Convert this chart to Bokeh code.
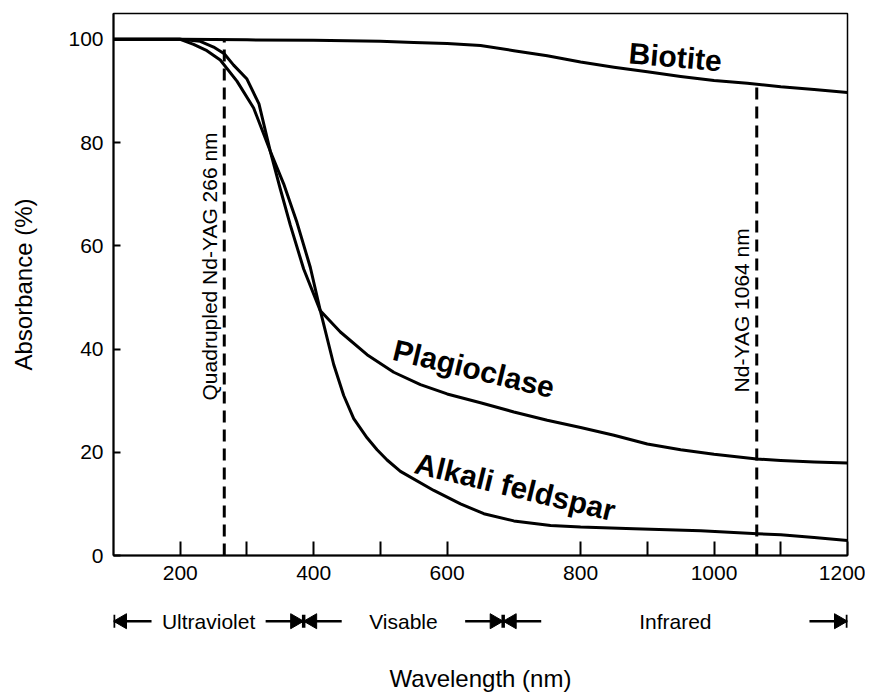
import numpy as np
from bokeh.plotting import figure
from bokeh.layouts import column
from bokeh.models import Range1d, FixedTicker, Label
from bokeh.core.properties import value
from bokeh.embed import file_html
from bokeh.resources import INLINE

# ---- data ----
wl_biotite = [100, 200, 300, 400, 450, 500, 550, 600, 650, 700, 750, 800, 850, 900, 950, 1000, 1050, 1100, 1150, 1200]
abs_biotite = [100, 100, 99.9, 99.8, 99.7, 99.6, 99.4, 99.2, 98.8, 97.8, 96.8, 95.6, 94.6, 93.7, 92.8, 92.0, 91.5, 90.8, 90.3, 89.7]

wl_plag = [100, 200, 230, 250, 266, 280, 300, 318, 335, 350, 365, 385, 410, 440, 480, 520, 560, 600, 650, 700, 750, 800, 850, 900, 950, 1000, 1064, 1100, 1150, 1200]
abs_plag = [100, 100, 99.6, 98.5, 97.2, 95.0, 92.3, 87.5, 78.3, 71.0, 64.0, 55.5, 47.4, 43.3, 38.9, 35.5, 33.1, 31.3, 29.6, 27.8, 26.2, 24.8, 23.3, 21.6, 20.5, 19.6, 18.7, 18.4, 18.1, 17.9]

wl_alkali = [100, 200, 220, 240, 260, 285, 310, 335, 355, 375, 395, 410, 430, 445, 460, 480, 495, 510, 530, 580, 620, 655, 700, 755, 800, 880, 980, 1065, 1100, 1150, 1200]
abs_alkali = [100, 100, 99.0, 97.8, 96.0, 91.9, 86.7, 78.3, 72.0, 64.5, 55.8, 47.4, 37.0, 31.0, 26.5, 22.8, 20.5, 18.5, 16.3, 12.6, 10.0, 8.1, 6.7, 5.8, 5.5, 5.2, 4.8, 4.2, 4.0, 3.5, 2.9]

laser_wl = [266, 1064]
laser_names = ["Quadrupled Nd-YAG 266 nm", "Nd-YAG 1064 nm"]
laser_label_y = [56, 47.5]

region_names = ["Ultraviolet", "Visable", "Infrared"]
region_bounds = [100, 385, 684, 1200]

x_ticks = [200, 400, 600, 800, 1000, 1200]
x_minor_ticks = [300, 500, 900, 1100]
y_ticks = [0, 20, 40, 60, 80, 100]

FONT = "Liberation Sans"
W = 865

# ---------------- main plot ----------------
x_range = Range1d(100, 1200)
p = figure(width=W, height=595, title=None,
           x_range=x_range, y_range=Range1d(0, 105),
           output_backend="svg", toolbar_location=None,
           min_border_left=113, min_border_right=18,
           min_border_top=13, min_border_bottom=40)
p.background_fill_color = "white"
p.border_fill_color = "white"
p.outline_line_color = "black"
p.outline_line_width = 1.5
p.xgrid.visible = False
p.ygrid.visible = False

xa = p.xaxis[0]
xa.ticker = FixedTicker(ticks=x_ticks, minor_ticks=x_minor_ticks)
xa.major_tick_in = 14
xa.major_tick_out = 0
xa.minor_tick_in = 14
xa.minor_tick_out = 0
xa.major_tick_line_width = 2
xa.minor_tick_line_width = 2
xa.axis_line_width = 2
xa.major_label_standoff = 10
xa.major_label_text_font = FONT
xa.major_label_text_font_size = "21px"
xa.major_label_text_color = "black"

ya = p.yaxis[0]
ya.ticker = FixedTicker(ticks=y_ticks)
ya.major_tick_in = 7
ya.major_tick_out = 0
ya.minor_tick_in = 0
ya.minor_tick_out = 0
ya.major_tick_line_width = 2
ya.axis_line_width = 2
ya.major_label_standoff = 10
ya.major_label_text_font = FONT
ya.major_label_text_font_size = "21px"
ya.major_label_text_color = "black"
ya.axis_label = "Absorbance (%)"
ya.axis_label_text_font = FONT
ya.axis_label_text_font_size = "24px"
ya.axis_label_text_font_style = "normal"
ya.axis_label_text_color = "black"
ya.axis_label_standoff = 28

for xs, ys in [(wl_biotite, abs_biotite), (wl_plag, abs_plag), (wl_alkali, abs_alkali)]:
    p.line(xs, ys, line_color="black", line_width=3, line_join="round")

laser_top = np.interp(laser_wl, wl_biotite, abs_biotite)
p.segment(x0=laser_wl, y0=np.zeros(len(laser_wl)), x1=laser_wl, y1=laser_top,
          line_color="black", line_width=3, line_dash="12 7")
for xw, name, ly in zip(laser_wl, laser_names, laser_label_y):
    p.add_layout(Label(x=xw, y=ly, x_offset=-15, text=name, angle=90, angle_units="deg",
                       text_align="center", text_baseline="middle",
                       text_font=FONT, text_font_size="21px", text_color="black"))

for txt, lx, ly, ang in [("Biotite", 942, 96.6, -5),
                         ("Plagioclase", 640, 36.2, -13.6),
                         ("Alkali feldspar", 702, 13.3, -13.7)]:
    p.add_layout(Label(x=lx, y=ly, text=txt, angle=ang, angle_units="deg",
                       text_align="center", text_baseline="middle",
                       text_font=FONT, text_font_size="30px", text_font_style="bold",
                       text_color="black"))

# ---------------- spectral-region band + axis title ----------------
p2 = figure(width=W, height=99, title=None,
            x_range=x_range, y_range=Range1d(-21, 28),
            output_backend="svg", toolbar_location=None, y_axis_location=None,
            min_border_left=113, min_border_right=18,
            min_border_top=0, min_border_bottom=50)
p2.outline_line_color = None
p2.xgrid.visible = False
p2.ygrid.visible = False
xb = p2.xaxis[0]
xb.ticker = FixedTicker(ticks=[])
xb.axis_line_color = None
xb.major_tick_line_color = None
xb.minor_tick_line_color = None
xb.major_tick_out = 0
xb.minor_tick_out = 0
xb.major_label_standoff = 0
xb.axis_label = "Wavelength (nm)"
xb.axis_label_text_font = FONT
xb.axis_label_text_font_size = "24px"
xb.axis_label_text_font_style = "normal"
xb.axis_label_text_color = "black"
xb.axis_label_standoff = 24

arrow_len = 57
head_size = 15
head_back = (2.0 / 3.0) * (head_size / 2) * np.sqrt(3) / (734 / 1100)  # px -> nm
tails, tips, head_x, head_ang = [], [], [], []
for i, b in enumerate(region_bounds):
    if i > 0:   # arrow arriving from the left, pointing right
        tails.append(b - arrow_len); tips.append(b)
        head_x.append(b - head_back); head_ang.append(-np.pi / 2)
    if i < len(region_bounds) - 1:   # arrow arriving from the right, pointing left
        tails.append(b + arrow_len); tips.append(b)
        head_x.append(b + head_back); head_ang.append(np.pi / 2)
zeros_a = np.zeros(len(tails))
p2.segment(x0=tails, y0=zeros_a, x1=tips, y1=zeros_a, line_color="black", line_width=2.5)
p2.scatter(x=head_x, y=np.zeros(len(head_x)), marker="triangle", size=head_size, angle=head_ang,
           fill_color="black", line_color="black", line_width=1)
p2.segment(x0=region_bounds, y0=np.full(len(region_bounds), -7),
           x1=region_bounds, y1=np.full(len(region_bounds), 7),
           line_color="black", line_width=3.5)
mids = [(region_bounds[i] + region_bounds[i + 1]) / 2 for i in range(len(region_names))]
p2.text(x=mids, y=np.zeros(len(mids)), text=region_names, text_align="center",
        text_baseline="middle", text_font=value(FONT), text_font_size="21px", text_color="black")

open("out.html", "w").write(file_html(column(p, p2, spacing=0), INLINE))
